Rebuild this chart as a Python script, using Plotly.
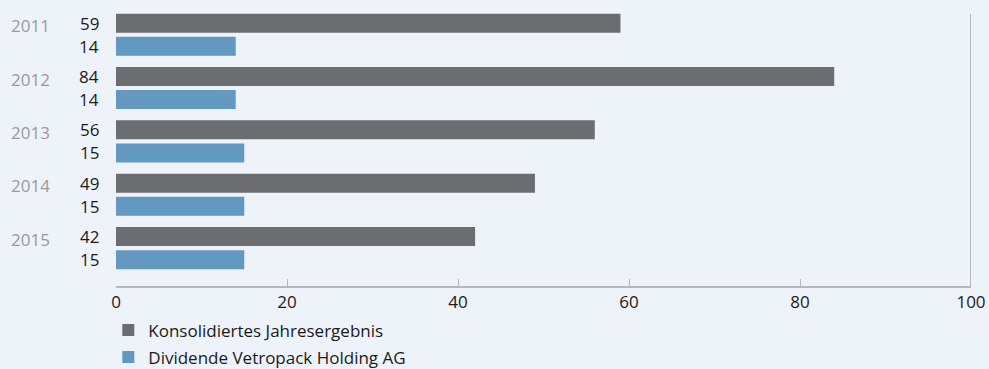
import plotly.graph_objects as go

years = ["2011", "2012", "2013", "2014", "2015"]
konsolidiert = [59, 84, 56, 49, 42]
dividende = [14, 14, 15, 15, 15]
series_names = ["Konsolidiertes Jahresergebnis", "Dividende Vetropack Holding AG"]
x_ticks = [0, 20, 40, 60, 80, 100]

BG = "#eef2f9"
DARK = "#6c6d71"
BLUE = "#6399c1"
FONT = "Open Sans"
pos = list(range(len(years)))
W = 0.356
OFF = 0.216

fig = go.Figure()
fig.add_trace(go.Bar(
    y=pos, x=konsolidiert, orientation="h", name=series_names[0],
    marker=dict(color=DARK, line=dict(width=0)),
    width=W, offset=-OFF - W / 2, legendgroup="a", hoverinfo="skip",
))
fig.add_trace(go.Bar(
    y=pos, x=dividende, orientation="h", name=series_names[1],
    marker=dict(color=BLUE, line=dict(width=0)),
    width=W, offset=OFF - W / 2, legendgroup="b", hoverinfo="skip",
))

ann = []
for i, yr in enumerate(years):
    ann.append(dict(x=0, y=i, xref="x", yref="y", yshift=11.5, xshift=-15,
                    text=str(konsolidiert[i]), showarrow=False, xanchor="right",
                    yanchor="middle", font=dict(family=FONT, size=17, color="#1a1a1a")))
    ann.append(dict(x=0, y=i, xref="x", yref="y", yshift=-11.5, xshift=-15,
                    text=str(dividende[i]), showarrow=False, xanchor="right",
                    yanchor="middle", font=dict(family=FONT, size=17, color="#1a1a1a")))
    ann.append(dict(x=0, y=i, xref="x", yref="y", yshift=9, xshift=-107,
                    text=yr, showarrow=False, xanchor="left",
                    yanchor="middle", font=dict(family=FONT, size=17, color="#9a9a9c")))

fig.update_layout(
    width=989, height=369,
    margin=dict(l=116, r=18, t=8, b=83, autoexpand=False),
    paper_bgcolor=BG, plot_bgcolor=BG,
    barmode="overlay",
    annotations=ann,
    showlegend=True,
    legend=dict(orientation="v", x=-0.009, xanchor="left", y=-0.095, yanchor="top",
                font=dict(family=FONT, size=17, color="#1a1a1a"),
                bgcolor="rgba(0,0,0,0)", traceorder="grouped", tracegroupgap=2,
                itemclick=False),
    xaxis=dict(range=[0, 100], tickvals=x_ticks, ticks="inside", ticklen=7,
               tickcolor="#b5b7bc", showline=True, linecolor="#b5b7bc", linewidth=2,
               showgrid=False, zeroline=False,
               tickfont=dict(family=FONT, size=17, color="#1a1a1a")),
    yaxis=dict(range=[4.71, -0.5], showticklabels=False, showgrid=False,
               zeroline=False, showline=False, ticks=""),
    shapes=[dict(type="line", xref="x", yref="paper", x0=100, x1=100,
                 y0=0, y1=(286 - 14) / 278, line=dict(color="#b5b7bc", width=2))],
)

fig.write_html("out.html")
